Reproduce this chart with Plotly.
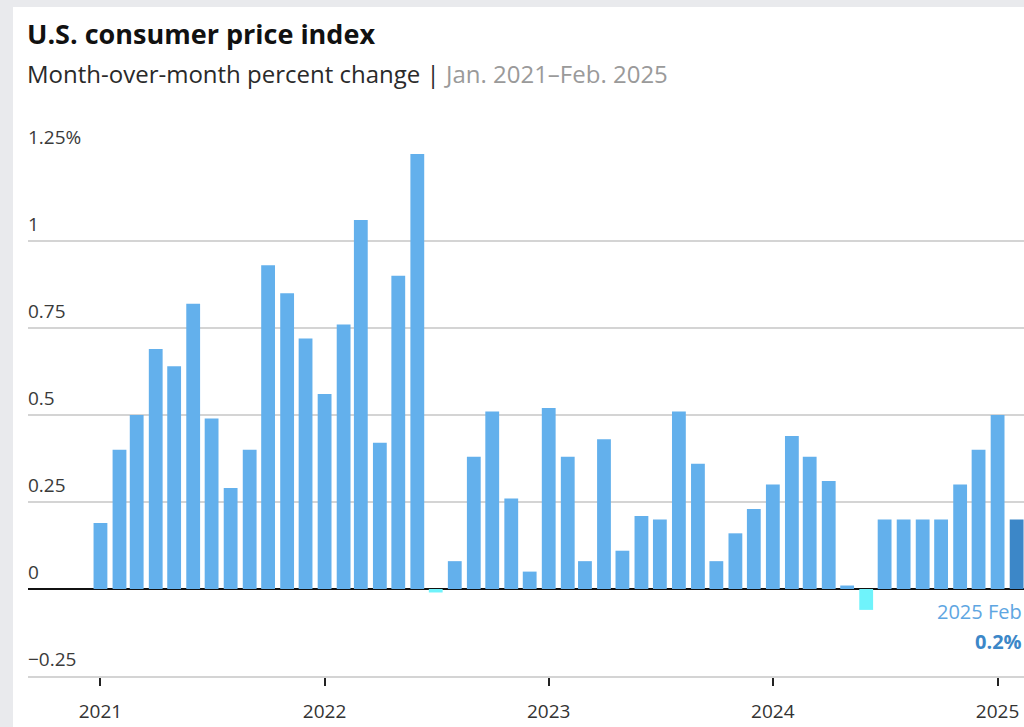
import plotly.graph_objects as go
import pandas as pd

# monthly CPI change, Jan 2021 - Feb 2025
months = pd.date_range("2021-01-01", "2025-02-01", freq="MS")
cpi_change = [
    0.19, 0.40, 0.50, 0.69, 0.64, 0.82, 0.49, 0.29, 0.40, 0.93, 0.85, 0.72,
    0.56, 0.76, 1.06, 0.42, 0.90, 1.25, -0.01, 0.08, 0.38, 0.51, 0.26, 0.05,
    0.52, 0.38, 0.08, 0.43, 0.11, 0.21, 0.20, 0.51, 0.36, 0.08, 0.16, 0.23,
    0.30, 0.44, 0.38, 0.31, 0.01, -0.06, 0.20, 0.20, 0.20, 0.20, 0.30, 0.40,
    0.50, 0.20,
]
y_ticks = [-0.25, 0, 0.25, 0.5, 0.75, 1, 1.25]
y_tick_labels = ["\u22120.25", "0", "0.25", "0.5", "0.75", "1", "1.25%"]
year_ticks = ["2021-01-01", "2022-01-01", "2023-01-01", "2024-01-01", "2025-01-01"]
year_labels = ["2021", "2022", "2023", "2024", "2025"]

BLUE = "#63b0ec"
CYAN = "#6ff3fb"
DARK = "#3c87c8"
FONT = "Open Sans"

colors = []
for i, v in enumerate(cpi_change):
    if i == len(cpi_change) - 1:
        colors.append(DARK)
    elif v < 0:
        colors.append(CYAN)
    else:
        colors.append(BLUE)

fig = go.Figure()
fig.add_trace(go.Bar(
    x=months, y=cpi_change,
    marker=dict(color=colors, line=dict(width=0)),
    width=[22.5 * 24 * 3600 * 1000] * len(cpi_change),
    hovertemplate="%{x|%Y %b}: %{y}%<extra></extra>",
))

# plot area pixels: left 28, right 1024, top 154, bottom 676
W, H = 1024, 727
L, R, T, B = 28, 0, 154, 51
pw, ph = W - L - R, H - T - B

def px_x(p):
    return (p - L) / pw

def px_y(p):
    return (H - B - p) / ph

shapes = [
    dict(type="rect", xref="paper", yref="paper",
         x0=px_x(0), x1=px_x(13), y0=px_y(H), y1=px_y(0),
         fillcolor="#e9eaed", line=dict(width=0), layer="below"),
    dict(type="rect", xref="paper", yref="paper",
         x0=px_x(0), x1=px_x(W), y0=px_y(7), y1=px_y(0),
         fillcolor="#e9eaed", line=dict(width=0), layer="below"),
]

annotations = []
for v, t in zip(y_ticks, y_tick_labels):
    annotations.append(dict(
        x=0, xref="paper", y=v, yref="y", text=t, showarrow=False,
        xanchor="left", yanchor="bottom", yshift=2, xshift=-2,
        font=dict(family=FONT, size=19, color="#3a3a3a"),
    ))

annotations += [
    dict(x=px_x(25), y=px_y(33), xref="paper", yref="paper",
         text="<b>U.S. consumer price index</b>", showarrow=False,
         xanchor="left", yanchor="middle",
         font=dict(family=FONT, size=27, color="#111")),
    dict(x=px_x(25), y=px_y(73), xref="paper", yref="paper",
         text="Month-over-month percent change | <span style='color:#9a9a9a'>Jan. 2021\u2013Feb. 2025</span>",
         showarrow=False, xanchor="left", yanchor="middle",
         font=dict(family=FONT, size=24, color="#2a2a2a")),
    dict(x=1, y=px_y(611), xref="paper", yref="paper",
         text="2025 Feb", showarrow=False, xanchor="right", yanchor="middle",
         font=dict(family=FONT, size=20, color="#5ea6e2")),
    dict(x=1, y=px_y(641), xref="paper", yref="paper",
         text="<b>0.2%</b>", showarrow=False, xanchor="right", yanchor="middle",
         font=dict(family=FONT, size=20, color=DARK)),
]

fig.update_layout(
    width=W, height=H,
    margin=dict(l=L, r=R, t=T, b=B),
    paper_bgcolor="white", plot_bgcolor="rgba(0,0,0,0)",
    showlegend=False,
    shapes=shapes, annotations=annotations,
    font=dict(family=FONT),
)
fig.update_xaxes(
    type="date",
    range=["2020-09-05", "2025-02-13"],
    tickvals=year_ticks, ticktext=year_labels,
    ticks="outside", ticklen=8, tickwidth=1.5, tickcolor="#222",
    tickfont=dict(family=FONT, size=19, color="#333"),
    ticklabelstandoff=9,
    showgrid=False, showline=True, linecolor="#d4d4d4", linewidth=2,
    zeroline=False,
)
fig.update_yaxes(
    range=[-0.25, 1.25],
    tickvals=y_ticks, showticklabels=False,
    showgrid=True, gridcolor="#d4d4d4", gridwidth=2,
    zeroline=True, zerolinecolor="#111", zerolinewidth=2,
)

fig.write_html(
    "out.html",
    config={"displayModeBar": False},
    post_script="document.body.style.margin='0';document.body.style.overflow='hidden';",
)
